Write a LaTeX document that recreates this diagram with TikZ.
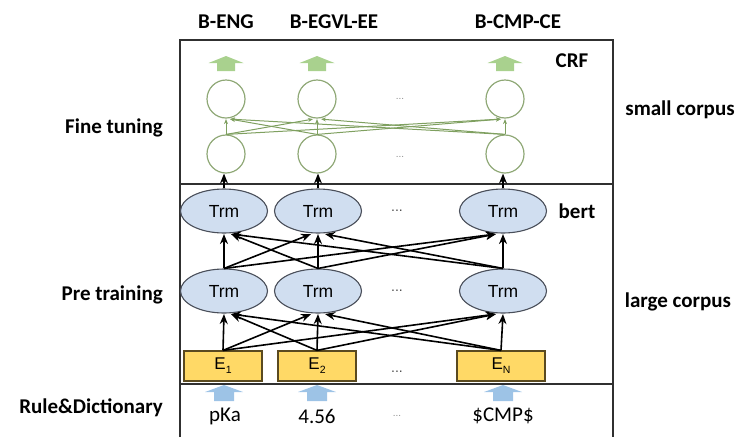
\documentclass[tikz,border=0pt]{standalone}
\usepackage{fontspec}
\setmainfont{Carlito}
\newfontfamily\arialf{Liberation Sans}
\usetikzlibrary{shapes.geometric,arrows.meta,calc}
\definecolor{trmfill}{HTML}{D0DEF0}
\definecolor{trmdraw}{HTML}{4A4F5A}
\definecolor{efill}{HTML}{FFD966}
\definecolor{edraw}{HTML}{5A4A20}
\definecolor{crfdraw}{HTML}{8FA876}
\definecolor{crfline}{HTML}{7FA060}
\definecolor{garrow}{HTML}{A9D18E}
\definecolor{barrow}{HTML}{9DC3E6}
\definecolor{boxline}{HTML}{303030}
\tikzset{
  lbl/.style={font=\fontsize{21}{25}\selectfont\bfseries, inner sep=0pt},
  trm/.style={ellipse, draw=trmdraw, fill=trmfill, line width=1.1pt, minimum width=87pt, minimum height=44pt, inner sep=0pt, font=\arialf\fontsize{17.5}{20}\selectfont},
  emb/.style={rectangle, draw=edraw, fill=efill, line width=1.2pt, minimum height=30pt, inner sep=0pt, font=\arialf\fontsize{17}{19}\selectfont},
  crf/.style={circle, draw=crfdraw, line width=1.2pt, minimum size=38pt, inner sep=0pt},
  conn/.style={line width=1.6pt, -{Stealth[length=10pt,width=8pt]}},
  gconn/.style={crfline, line width=1pt, -{Stealth[length=5pt,width=4pt]}},
  dots/.style={font=\arialf\fontsize{14}{16}\selectfont, text=black!70, inner sep=0pt},
  sdots/.style={font=\arialf\fontsize{10}{12}\selectfont, text=black!45, inner sep=0pt},
  word/.style={font=\fontsize{21}{25}\selectfont, inner sep=0pt},
  greenup/.pic={\fill[garrow] (-17.5,0) -- (0,-7) -- (17.5,0) -- (9,0) -- (9,8) -- (-9,8) -- (-9,0) -- cycle;},
  blueup/.pic={\fill[barrow] (-19,0) -- (0,-7) -- (19,0) -- (10,0) -- (10,9) -- (-10,9) -- (-10,0) -- cycle;}
}
\begin{document}
\begin{tikzpicture}[x=1pt,y=-1pt]
\useasboundingbox (0,0) rectangle (738,437);
% frame
\draw[boxline, line width=1.1pt] (180,437) -- (180,40) -- (613,40) -- (613,437);
\draw[boxline, line width=1.4pt] (180,184) -- (613,184);
\draw[boxline, line width=2pt] (180,384) -- (613,384);

% top labels
\node[lbl] (l1) at (226,22) {B-ENG};
\node[lbl] (l2) at (334,22) {B-EGVL-EE};
\node[lbl] (l3) at (518,22) {B-CMP-CE};
\node[lbl] (crf) at (572,61) {CRF};
\node[lbl] (bert) at (577,211) {bert};
\node[lbl] (small) at (680,110) {small corpus};
\node[lbl] (large) at (678,302) {large corpus};
\node[lbl, anchor=east] (ft) at (163,128) {Fine tuning};
\node[lbl, anchor=east] (pt) at (163,295) {Pre training};
\node[lbl, anchor=east] (rd) at (163,408) {Rule\&Dictionary};

% green arrows
\pic at (226,63) {greenup};
\pic at (317,63) {greenup};
\pic at (505,63) {greenup};

% CRF circles
\node[crf] (c1) at (226,99) {};
\node[crf] (c2) at (317,99) {};
\node[crf] (c3) at (505,99) {};
\node[crf] (d1) at (226,154) {};
\node[crf] (d2) at (317,154) {};
\node[crf] (d3) at (505,154) {};
\node[sdots] (cdots1) at (400,99) {...};
\node[sdots] (cdots2) at (400,157) {...};
\foreach \i in {1,2,3}{
  \foreach \j in {1,2,3}{
    \pgfmathsetmacro{\dx}{\i<\j ? -4 : (\i>\j ? 4 : 0)}
    \draw[gconn] (d\i.north) -- ($(c\j.south)+(\dx,0.5)$);
  }
}

% Trm layers
\node[trm] (t1) at (224,211) {Trm};
\node[trm] (t2) at (318,211) {Trm};
\node[trm] (t3) at (503,211) {Trm};
\node[trm] (b1) at (224,291) {Trm};
\node[trm] (b2) at (318,291) {Trm};
\node[trm] (b3) at (503,291) {Trm};
\node[dots] (tdots) at (397,211) {...};
\node[dots] (bdots) at (397,291) {...};

% embeddings
\node[emb, minimum width=78pt] (e1) at (223,366) {E\raisebox{-4pt}{\fontsize{10.5}{10}\selectfont 1}};
\node[emb, minimum width=78pt] (e2) at (317,366) {E\raisebox{-4pt}{\fontsize{10.5}{10}\selectfont 2}};
\node[emb, minimum width=88pt] (e3) at (501,366) {E\raisebox{-4pt}{\fontsize{10.5}{10}\selectfont N}};
\node[dots] (edots) at (397,372) {...};

% connections
\foreach \i in {1,2,3}{
  \draw[conn] (t\i.north) -- (t\i.north |- d\i.south);
  \foreach \j in {1,2,3}{
    \pgfmathsetmacro{\dx}{\i<\j ? -7 : (\i>\j ? 7 : 0)}
    \draw[conn] (b\i.north) -- ($(t\j.south)+(\dx,0.5)$);
    \draw[conn] (e\i.north) -- ($(b\j.south)+(\dx,0.5)$);
  }
}

% inputs
\pic at (224,392) {blueup};
\pic at (317,392) {blueup};
\pic at (503,392) {blueup};
\node[word] (w1) at (225,416) {pKa};
\node[word] (w2) at (317,416) {4.56};
\node[sdots] (wdots) at (397,416) {...};
\node[word] (w3) at (503,416) {\$CMP\$};
\end{tikzpicture}
\end{document}
